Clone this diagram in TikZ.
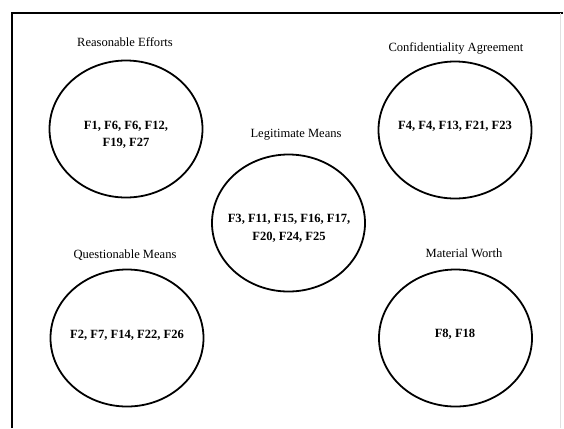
\documentclass[tikz,border=0pt]{standalone}
\usepackage{fontspec}
\setmainfont{Liberation Serif}
\usetikzlibrary{shapes.geometric}
\begin{document}
\begin{tikzpicture}[x=1bp,y=-1bp,
  group/.style={draw=black, line width=1.8bp, ellipse, inner sep=0pt,
                minimum width=153bp, minimum height=137bp},
  grouptitle/.style={font=\fontsize{12.6}{15}\selectfont, inner sep=0pt},
  members/.style={font=\bfseries\fontsize{12.6}{17.5}\selectfont, align=center, inner sep=0pt},
  frame/.style={draw=black, line width=1.4bp}]
\useasboundingbox (0,0) rectangle (564,428);

% open frame (bottom edge runs past the page)
\coordinate (fbl) at (12,428);
\coordinate (ftl) at (12,13);
\coordinate (ftr) at (563,13);
\coordinate (fri) at (560,13);
\coordinate (fbr) at (560,428);
\draw[frame] (fbl) -- (ftl) -- (ftr);
\draw[draw=black!12, line width=0.8bp] (fri) -- (fbr);

% Reasonable Efforts
\node[grouptitle] (reT) at (125,42) {Reasonable Efforts};
\node[group] (re) at (126,129) {};
\node[members] (reM) at (126,135) {F1, F6, F6, F12,\\F19, F27};

% Confidentiality Agreement
\node[grouptitle] (caT) at (456,48) {Confidentiality Agreement};
\node[group] (ca) at (455,130) {};
\node[members] (caM) at (455,126) {F4, F4, F13, F21, F23};

% Legitimate Means
\node[grouptitle] (lmT) at (296,135) {Legitimate Means};
\node[group] (lm) at (288.5,223) {};
\node[members] (lmM) at (289,228.5) {F3, F11, F15, F16, F17,\\F20, F24, F25};

% Questionable Means
\node[grouptitle] (qmT) at (125,255) {Questionable Means};
\node[group] (qm) at (127,338) {};
\node[members] (qmM) at (127,335) {F2, F7, F14, F22, F26};

% Material Worth
\node[grouptitle] (mwT) at (464,253) {Material Worth};
\node[group] (mw) at (455.5,338) {};
\node[members] (mwM) at (455,334) {F8, F18};
\end{tikzpicture}
\end{document}
